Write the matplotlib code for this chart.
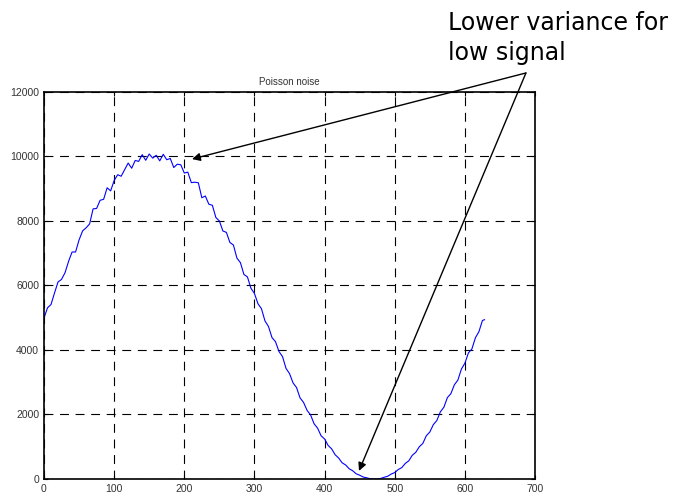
import matplotlib
matplotlib.use("Agg")
import matplotlib.pyplot as plt

# signal values (every 5 samples)
x_vals = list(range(0, 630, 5)) + [628]
y_vals = [
    4990, 5308, 5410, 5770, 6109, 6190, 6398, 6747, 7038, 7039,
    7414, 7692, 7788, 7909, 8376, 8390, 8643, 8672, 9030, 8934,
    9255, 9434, 9388, 9593, 9797, 9636, 9877, 9849, 10057, 9883,
    10077, 9949, 10038, 9865, 10068, 9900, 9938, 9658, 9761, 9743,
    9487, 9515, 9190, 9203, 9185, 8721, 8775, 8520, 8487, 8108,
    8001, 7691, 7647, 7334, 7255, 6850, 6708, 6341, 6267, 5914,
    5752, 5435, 5280, 4902, 4729, 4385, 4258, 3952, 3795, 3430,
    3269, 2981, 2835, 2515, 2375, 2128, 1988, 1713, 1577, 1340,
    1240, 1041, 935, 753, 650, 502, 435, 318, 256, 162,
    117, 61, 37, 8, 1, 4, 18, 54, 85, 154,
    199, 294, 353, 482, 564, 735, 829, 1000, 1102, 1341,
    1457, 1686, 1813, 2082, 2224, 2523, 2646, 2922, 3067, 3408,
    3591, 3908, 4034, 4380, 4569, 4916, 4939,
]

x_ticks = [0, 100, 200, 300, 400, 500, 600, 700]
y_ticks = [0, 2000, 4000, 6000, 8000, 10000, 12000]

title = "Poisson noise"
note = "Lower variance for\nlow signal"
note_start = (687, 12590)
note_targets = [(211, 9920), (449, 250)]

plt.rcParams['font.family'] = ['Liberation Sans', 'DejaVu Sans']

fig = plt.figure(figsize=(6.79, 4.93), dpi=100)
ax = fig.add_axes([0.0648, 0.0284, 0.7232, 0.785])

ax.plot(x_vals, y_vals, color='blue', linewidth=0.8)

ax.set_xlim(0, 700)
ax.set_ylim(0, 12000)
ax.set_xticks(x_ticks)
ax.set_yticks(y_ticks)
ax.tick_params(direction='in', labelsize=7.5, labelcolor='#333333',
               length=3, top=True, right=True)
ax.grid(True, color='black', linestyle=(0, (8, 6)), linewidth=0.8)
for side in ax.spines.values():
    side.set_linewidth(1.2)

ax.set_title(title, fontsize=7, pad=5, color='#333333')

fig.text(448 / 679, 1 - 11 / 493, note, fontsize=17, va='top', ha='left',
         linespacing=1.3, family=['DejaVu Sans'])

for tx, ty in note_targets:
    ax.annotate('', xy=(tx, ty), xytext=note_start, annotation_clip=False,
                arrowprops=dict(arrowstyle='-|>', color='black', lw=1.0,
                                mutation_scale=12, shrinkA=0, shrinkB=0))

fig.savefig('out.png', dpi=100)
